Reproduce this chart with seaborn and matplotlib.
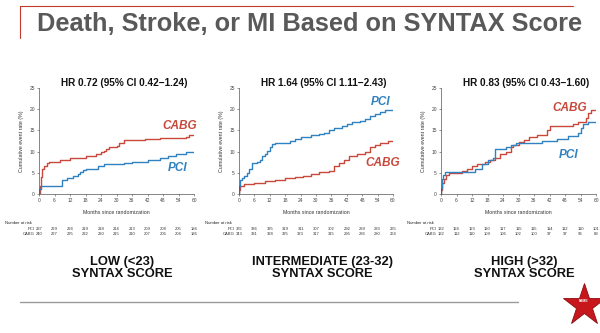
import numpy as np
import pandas as pd
import matplotlib
matplotlib.use("Agg")
import matplotlib.pyplot as plt
from matplotlib.transforms import blended_transform_factory
from matplotlib.lines import Line2D
import seaborn as sns

sns.set_style("white")
plt.rcParams['font.family'] = ['Liberation Sans', 'DejaVu Sans']

# ---------------- data ----------------
months_ticks = [0, 6, 12, 18, 24, 30, 36, 42, 48, 54, 60]
y_ticks = [0, 5, 10, 15, 20, 25]

low_cabg_t = [0, 0.2, 0.6, 1, 2, 3, 4, 8, 12, 18, 22, 24, 25, 26, 27, 30, 31, 33, 41, 47, 57, 58, 59, 60]
low_cabg_y = [0, 2, 4, 6, 6.5, 7.3, 7.6, 8.0, 8.6, 9.0, 9.4, 9.8, 10.2, 10.6, 11.0, 11.3, 12.0, 12.7, 13.0, 13.2, 13.4, 13.8, 14.0, 14.0]
low_pci_t = [0, 0.1, 0.6, 9, 11, 13, 15, 16, 17, 18, 23, 25, 33, 36, 42, 47, 50, 53, 57, 60]
low_pci_y = [0, 1.2, 2.0, 3.3, 3.7, 4.2, 4.7, 5.2, 5.6, 6.0, 6.5, 7.0, 7.3, 7.6, 8.0, 8.5, 9.0, 9.5, 10.0, 10.0]

int_pci_t = [0, 0.1, 0.3, 1, 2, 3, 4, 5, 7, 8, 9, 10, 11, 12, 13, 14, 20, 22, 24, 28, 31, 33, 35, 37, 40, 42, 44, 47, 49, 51, 53, 55, 57, 60]
int_pci_y = [0, 2.0, 3.3, 3.8, 4.3, 5.0, 6.0, 7.3, 7.6, 8.0, 9.0, 9.5, 10.2, 11.0, 11.8, 12.0, 12.5, 13.0, 13.5, 13.8, 14.2, 14.5, 15.0, 15.5, 16.0, 16.5, 17.0, 17.3, 17.7, 18.3, 18.8, 19.3, 19.8, 19.8]
int_cabg_t = [0, 0.1, 0.5, 2, 6, 10, 14, 18, 22, 25, 28, 31, 35, 37, 39, 41, 43, 46, 49, 51, 53, 55, 58, 60]
int_cabg_y = [0, 1.0, 2.0, 2.3, 2.6, 3.0, 3.3, 3.8, 4.0, 4.3, 4.8, 5.2, 5.5, 6.5, 7.3, 8.0, 9.0, 9.5, 10.0, 11.0, 11.5, 12.0, 12.5, 12.5]

high_cabg_t = [0, 0.1, 0.3, 1, 2, 3, 8, 10, 12, 14, 17, 19, 21, 23, 25, 27, 28, 30, 32, 34, 37, 41, 42, 51, 53, 56, 57, 58, 60]
high_cabg_y = [0, 1.0, 2.5, 3.5, 4.5, 5.0, 5.5, 6.0, 6.5, 7.0, 7.5, 8.0, 8.5, 9.5, 10.0, 11.0, 11.5, 12.3, 12.8, 13.5, 14.0, 15.0, 16.0, 16.5, 17.0, 18.0, 19.0, 19.8, 19.8]
high_pci_t = [0, 0.1, 0.3, 0.8, 1.5, 13, 16, 18, 20, 21, 25, 27, 29, 39, 45, 49, 53, 54, 55, 57, 60]
high_pci_y = [0, 1.5, 3.5, 4.5, 5.3, 6.0, 7.0, 8.0, 8.5, 10.5, 11.0, 11.5, 12.0, 12.5, 13.0, 13.7, 14.5, 15.5, 16.5, 17.0, 17.0]

low_risk_pci = [237, 229, 224, 219, 218, 214, 213, 209, 208, 205, 184]
low_risk_cabg = [240, 227, 225, 222, 220, 215, 210, 207, 206, 204, 186]
int_risk_pci = [365, 336, 325, 319, 311, 307, 302, 292, 289, 283, 265]
int_risk_cabg = [343, 331, 328, 325, 323, 317, 315, 295, 286, 280, 264]
high_risk_pci = [132, 124, 123, 120, 117, 115, 115, 114, 112, 110, 101]
high_risk_cabg = [122, 112, 110, 109, 106, 102, 100, 97, 97, 96, 89]

hr_titles = ["HR 0.72 (95% CI 0.42\u22121.24)", "HR 1.64 (95% CI 1.11\u22122.43)", "HR 0.83 (95% CI 0.43\u22121.60)"]
group_labels = ["LOW (<23)\nSYNTAX SCORE", "INTERMEDIATE (23-32)\nSYNTAX SCORE", "HIGH (>32)\nSYNTAX SCORE"]
title = "Death, Stroke, or MI Based on SYNTAX Score"

CABG_COLOR = "#c9483c"
PCI_COLOR = "#2f82bf"

panels = [
    dict(pci=(low_pci_t, low_pci_y), cabg=(low_cabg_t, low_cabg_y),
         risk=(low_risk_pci, low_risk_cabg), cabg_lab=(54.6, 16.0), pci_lab=(53.5, 6.1)),
    dict(pci=(int_pci_t, int_pci_y), cabg=(int_cabg_t, int_cabg_y),
         risk=(int_risk_pci, int_risk_cabg), cabg_lab=(56, 7.3), pci_lab=(55, 21.7)),
    dict(pci=(high_pci_t, high_pci_y), cabg=(high_cabg_t, high_cabg_y),
         risk=(high_risk_pci, high_risk_cabg), cabg_lab=(50, 20.3), pci_lab=(49.5, 9.2)),
]

fig = plt.figure(figsize=(6.0, 3.33), dpi=100)
W, H = 600.0, 333.0
lefts = [39, 239, 441]
widths = [155, 154, 155]
bottom_px, top_px = 194, 88

for i, p in enumerate(panels):
    ax = fig.add_axes([lefts[i] / W, 1 - bottom_px / H, widths[i] / W, (bottom_px - top_px) / H])
    df = pd.concat([
        pd.DataFrame({"month": p["cabg"][0], "rate": p["cabg"][1], "arm": "CABG"}),
        pd.DataFrame({"month": p["pci"][0], "rate": p["pci"][1], "arm": "PCI"}),
    ])
    sns.lineplot(data=df, x="month", y="rate", hue="arm", palette={"CABG": CABG_COLOR, "PCI": PCI_COLOR},
                 estimator=None, drawstyle="steps-post", linewidth=1.0, legend=False, ax=ax)
    ax.set_xlim(0, 60)
    ax.set_ylim(0, 25)
    ax.set_xticks(months_ticks)
    ax.set_yticks(y_ticks)
    ax.tick_params(axis="both", labelsize=3.5, length=1.5, width=0.4, colors="#444444", pad=1.5,
                   direction="out", bottom=True, left=True)
    for s in ["top", "right"]:
        ax.spines[s].set_visible(False)
    for s in ["left", "bottom"]:
        ax.spines[s].set_linewidth(0.5)
        ax.spines[s].set_color("#555555")
    ax.set_xlabel("Months since randomization", fontsize=3.8, labelpad=5, color="#333333")
    ax.set_ylabel("Cumulative event rate (%)", fontsize=3.8, labelpad=4, color="#333333")
    ax.set_title(hr_titles[i], fontsize=7.2, fontweight="bold", color="#111111", pad=1.5, x=0.55)
    ax.text(*p["cabg_lab"], "CABG", color=CABG_COLOR, fontsize=8.5, fontweight="bold",
            fontstyle="italic", ha="center", va="center")
    ax.text(*p["pci_lab"], "PCI", color=PCI_COLOR, fontsize=8.5, fontweight="bold",
            fontstyle="italic", ha="center", va="center")

    # number at risk table
    tr = blended_transform_factory(ax.transData, fig.transFigure)
    fig.text((lefts[i] - 34) / W, 1 - 223 / H, "Number at risk", fontsize=3, va="center", color="#222222")
    fig.text((lefts[i] - 4) / W, 1 - 229 / H, "PCI", fontsize=3, va="center", ha="right", color="#333333")
    fig.text((lefts[i] - 4) / W, 1 - 234 / H, "CABG", fontsize=3, va="center", ha="right", color="#333333")
    for m, a, b in zip(months_ticks, p["risk"][0], p["risk"][1]):
        ax.text(m, 1 - 229 / H, str(a), transform=tr, fontsize=3, ha="center", va="center", color="#333333")
        ax.text(m, 1 - 234 / H, str(b), transform=tr, fontsize=3, ha="center", va="center", color="#333333")

    # group label
    fig.text((lefts[i] + 83) / W, 1 - 268 / H, group_labels[i], fontsize=9.3, fontweight="bold",
             ha="center", va="center", color="#111111", linespacing=0.9)

# slide title and decorations
fig.text(310 / W, 1 - 24 / H, title, fontsize=18.3, fontweight="bold", color="#595959",
         ha="center", va="center")
fig.add_artist(Line2D([20 / W, 573 / W], [1 - 6 / H, 1 - 6 / H], color="#c0392b", linewidth=0.8))
fig.add_artist(Line2D([20 / W, 20 / W], [1 - 6 / H, 1 - 38 / H], color="#c0392b", linewidth=0.8))
fig.add_artist(Line2D([20 / W, 518 / W], [1 - 302 / H, 1 - 302 / H], color="#9a9a9a", linewidth=1.0))
fig.add_artist(Line2D([584 / W], [1 - 305 / H], marker="*", markersize=32, color="#c8161d",
                      markeredgecolor="#8a0d12", markeredgewidth=0.6))
fig.text(584 / W, 1 - 301 / H, "FAME", fontsize=2.5, color="white", ha="center", va="center",
         fontweight="bold")

fig.savefig("out.png", dpi=100, facecolor="white")
